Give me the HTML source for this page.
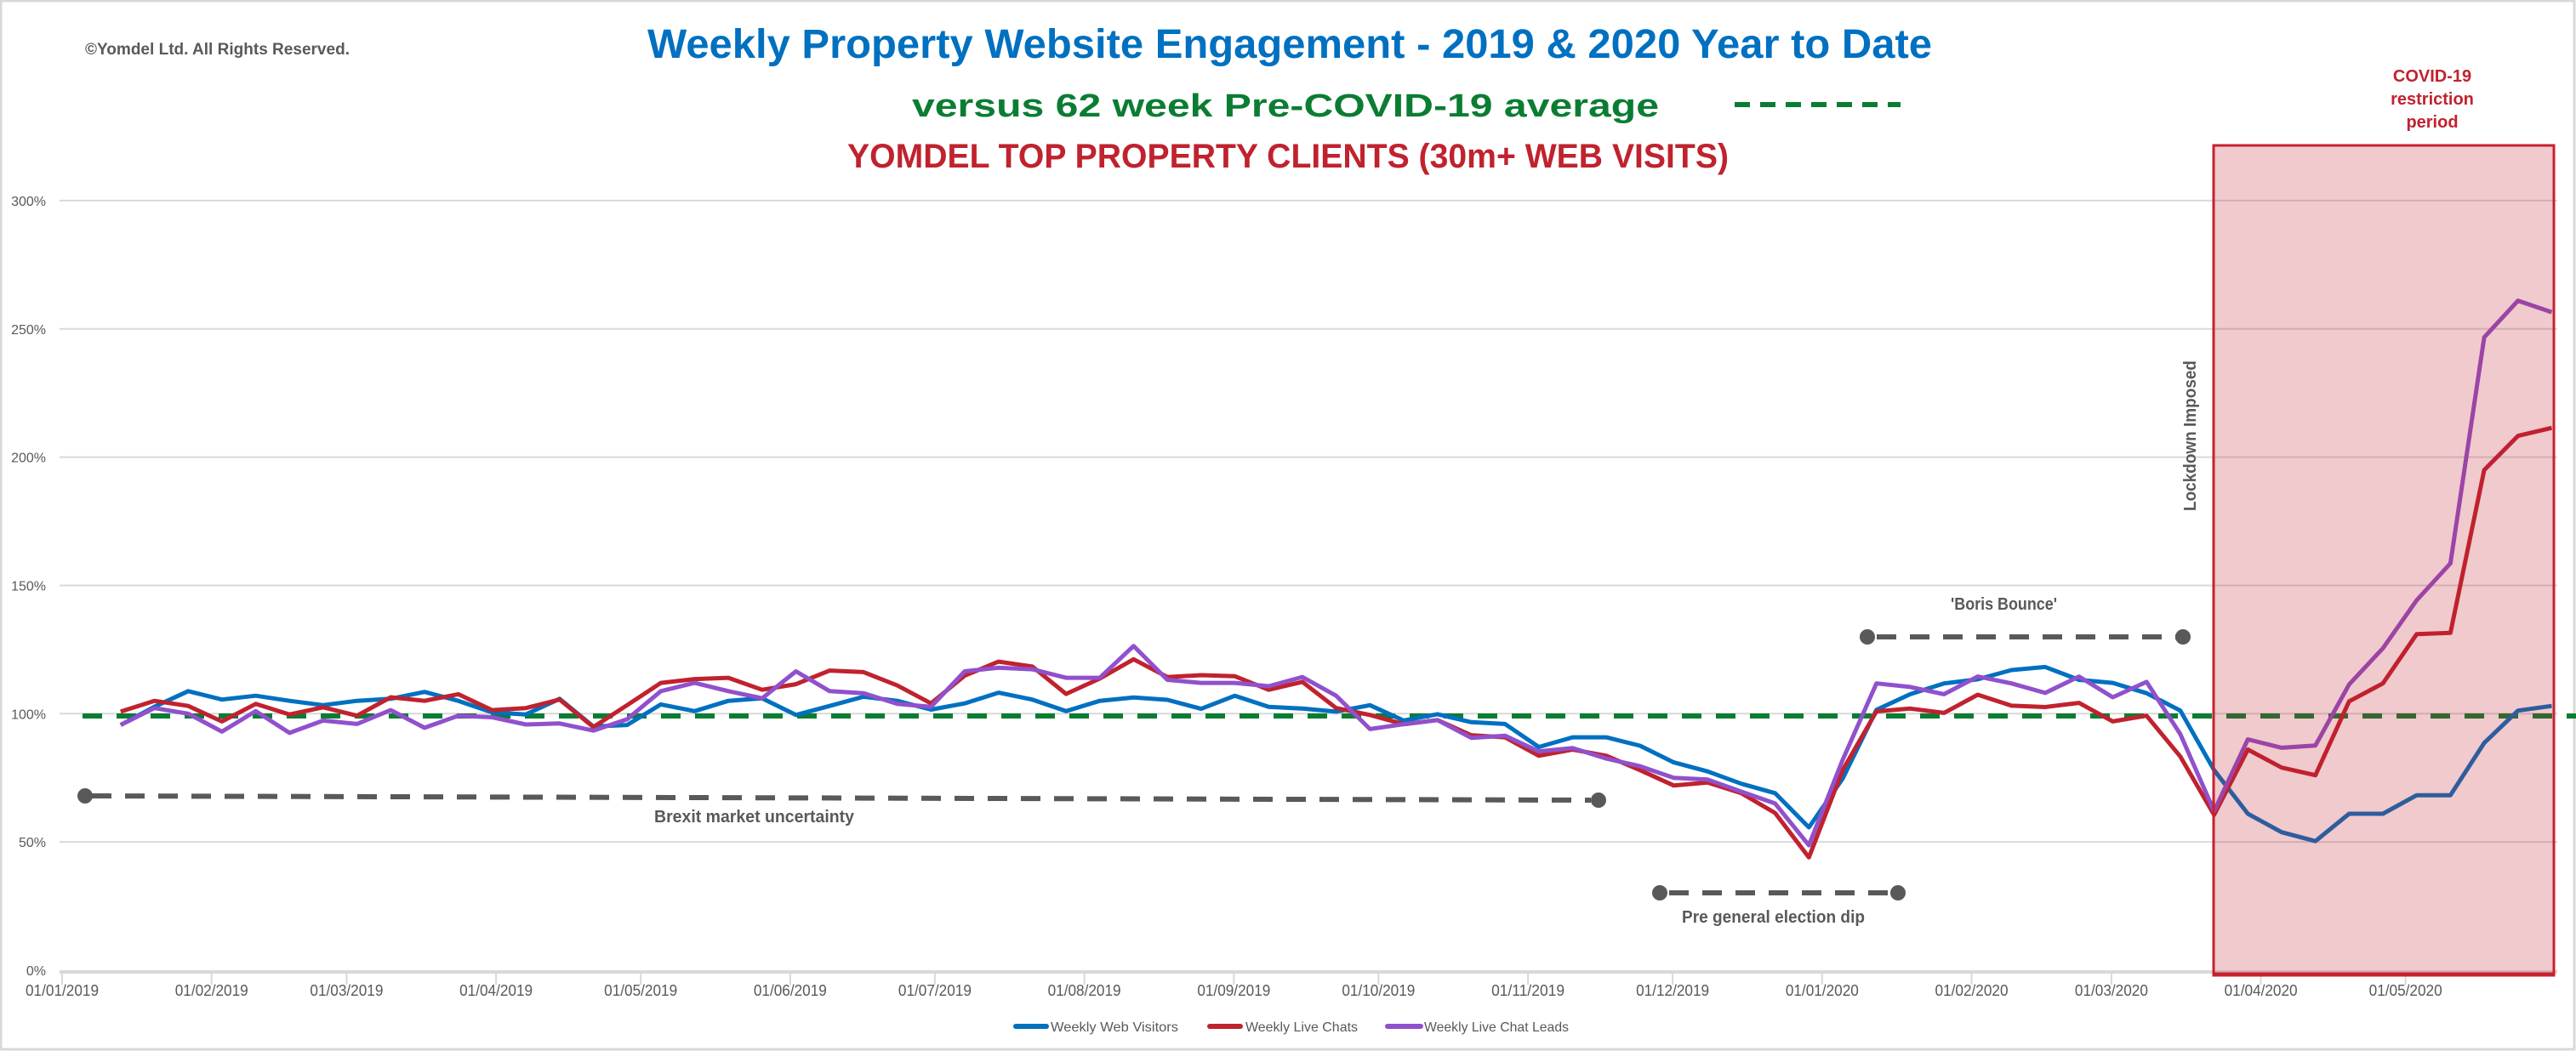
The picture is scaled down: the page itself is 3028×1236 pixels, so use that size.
<!DOCTYPE html>
<html><head><meta charset="utf-8"><style>
html,body{margin:0;padding:0;background:#fff;}
svg{display:block;font-family:"Liberation Sans",sans-serif;}
</style></head><body>
<svg id="s" width="3028" height="1236" viewBox="0 0 3028 1236" xmlns="http://www.w3.org/2000/svg">
<rect x="1" y="1" width="3025" height="1233" fill="#fff" stroke="#D9D9D9" stroke-width="3"/>
<g id="grid" stroke="#D9D9D9" stroke-width="2"></g>
<g id="ylab" font-size="16" fill="#595959" text-anchor="end"></g>
<g id="xlab" font-size="18" fill="#595959" text-anchor="middle"></g>
<line x1="70" y1="1143" x2="3006" y2="1143" stroke="#D9D9D9" stroke-width="4"/>
<g id="ticks" stroke="#D9D9D9" stroke-width="2"></g>

<text x="100" y="64" font-size="19" font-weight="bold" fill="#595959" textLength="311" lengthAdjust="spacingAndGlyphs">©Yomdel Ltd. All Rights Reserved.</text>
<text x="761" y="68" font-size="48" font-weight="bold" fill="#0070C0" textLength="1510" lengthAdjust="spacingAndGlyphs">Weekly Property Website Engagement - 2019 &amp; 2020 Year to Date</text>
<text x="1072" y="137" font-size="38" font-weight="bold" fill="#0A7D32" textLength="878" lengthAdjust="spacingAndGlyphs">versus 62 week Pre-COVID-19 average</text>
<line x1="2039" y1="123" x2="2234" y2="123" stroke="#0A7D32" stroke-width="6" stroke-dasharray="18,12"/>
<text x="996" y="197" font-size="40" font-weight="bold" fill="#C0222E" textLength="1036" lengthAdjust="spacingAndGlyphs">YOMDEL TOP PROPERTY CLIENTS (30m+ WEB VISITS)</text>

<g font-size="20" font-weight="bold" fill="#C0222E" text-anchor="middle">
<text x="2859" y="96">COVID-19</text>
<text x="2859" y="123">restriction</text>
<text x="2859" y="150">period</text>
</g>

<!-- annotations -->
<g stroke="#595959" stroke-width="6" stroke-dasharray="23,16" fill="none">
<line x1="108" y1="936" x2="1870" y2="941"/>
<line x1="1962" y1="1050" x2="2222" y2="1050"/>
<line x1="2206" y1="749" x2="2560" y2="749"/>
</g>
<g fill="#595959">
<circle cx="100" cy="936" r="9"/><circle cx="1879" cy="941" r="9"/>
<circle cx="1951" cy="1050" r="9"/><circle cx="2231" cy="1050" r="9"/>
<circle cx="2195" cy="749" r="9"/><circle cx="2566" cy="749" r="9"/>
</g>
<g font-size="20" font-weight="bold" fill="#595959">
<text x="769" y="967" textLength="235" lengthAdjust="spacingAndGlyphs">Brexit market uncertainty</text>
<text x="1977" y="1085" textLength="215" lengthAdjust="spacingAndGlyphs">Pre general election dip</text>
<text x="2293" y="717" textLength="125" lengthAdjust="spacingAndGlyphs">'Boris Bounce'</text>
<text transform="translate(2581,601) rotate(-90)" textLength="177" lengthAdjust="spacingAndGlyphs">Lockdown Imposed</text>
</g>

<line x1="97" y1="842" x2="3028" y2="842" stroke="#0A7D32" stroke-width="6" stroke-dasharray="23,17"/>
<g id="series" fill="none" stroke-width="5" stroke-linejoin="round"></g>

<rect x="2602" y="171" width="400" height="976" fill="rgba(192,32,46,0.24)" stroke="#C8202F" stroke-width="3"/>
<line x1="2602" y1="1146" x2="3002" y2="1146" stroke="#C8202F" stroke-width="5"/>

<!-- legend -->
<g font-size="16" fill="#595959">
<line x1="1194" y1="1207" x2="1230" y2="1207" stroke="#0070C0" stroke-width="6" stroke-linecap="round"/>
<text x="1235" y="1213" textLength="150" lengthAdjust="spacingAndGlyphs">Weekly Web Visitors</text>
<line x1="1422" y1="1207" x2="1458" y2="1207" stroke="#C0222E" stroke-width="6" stroke-linecap="round"/>
<text x="1464" y="1213" textLength="132" lengthAdjust="spacingAndGlyphs">Weekly Live Chats</text>
<line x1="1631" y1="1207" x2="1670" y2="1207" stroke="#9150CC" stroke-width="6" stroke-linecap="round"/>
<text x="1674" y="1213" textLength="170" lengthAdjust="spacingAndGlyphs">Weekly Live Chat Leads</text>
</g>
</svg>
<script>
var NS="http://www.w3.org/2000/svg";
function el(p,t,a,txt){var e=document.createElementNS(NS,t);for(var k in a)e.setAttribute(k,a[k]);if(txt)e.textContent=txt;document.getElementById(p).appendChild(e);return e;}
function Y(p){return 1141-p*3.017;}
for(var v=50;v<=300;v+=50){el("grid","line",{x1:70,y1:Y(v),x2:3006,y2:Y(v)});}
for(var v=0;v<=300;v+=50){el("ylab","text",{x:54,y:Y(v)+6},v+"%");}
var d=[[0,"01/01/2019"],[31,"01/02/2019"],[59,"01/03/2019"],[90,"01/04/2019"],[120,"01/05/2019"],[151,"01/06/2019"],[181,"01/07/2019"],[212,"01/08/2019"],[243,"01/09/2019"],[273,"01/10/2019"],[304,"01/11/2019"],[334,"01/12/2019"],[365,"01/01/2020"],[396,"01/02/2020"],[425,"01/03/2020"],[456,"01/04/2020"],[486,"01/05/2020"]];
d.forEach(function(q){var x=73+5.668*q[0];el("ticks","line",{x1:x,y1:1143,x2:x,y2:1158});el("xlab","text",{x:x,y:1171,textLength:86,lengthAdjust:"spacingAndGlyphs"},q[1]);});
var B=[95.6,102.7,108.8,105.5,107,105,103.3,105,105.8,108.5,105,100.5,99.7,105.8,95,95.6,103.6,101,105,106,
99.5,103,106.6,105,101.6,104,108.2,105.5,101,105,106.3,105.4,101.9,107,102.7,102,100.8,103.3,97.3,
99.8,96.7,96,87,90.8,90.8,87.5,81,77.5,72.7,69,55.7,74.7,101.5,107.6,111.8,113.4,117,118.2,113.2,
112,108,101.2,78,61,53.8,50.3,61,61,68.2,68.2,88.6,101.2,103];
var R=[100.8,105,103,97,103.8,99.7,102.5,99.2,106.4,105,107.6,101.4,102.2,105.5,94.8,103.3,112,113.5,114,109.3,
111.5,116.8,116.2,111,104,114.8,120.3,118.4,107.7,113.7,121.2,114.3,115,114.6,109.3,112.4,102.2,99.5,95.9,
97.5,91.6,90.8,83.6,86,83.6,78,72,73.2,69,61.3,44,78,100.9,102,100.3,107.4,103.1,102.6,104.2,
97,99.2,83.3,60.6,86,79,76,104.8,111.8,131,131.5,195,208.3,211.4];
var P=[95.6,102.2,100,93,101,92.5,97.3,96,101.4,94.5,99.2,98.6,95.8,96.2,93.4,97.8,108.8,112,108.8,106,
116.5,108.8,108,103.8,102.7,116.5,117.9,117.3,114,114,126.4,113.2,112,112,110.7,114.3,107,94,95.9,
97.5,90.6,91.4,85.3,86.6,82.5,79.5,75,74.3,69.6,65,48.7,82,111.8,110.4,107.6,114.5,111.8,108.1,114.5,
106.4,112.4,92,62,90,86.7,87.6,111.4,125.5,144.2,158.6,246.7,261,256.5];
function pts(a){return a.map(function(v,i){return (141.8+39.69*i).toFixed(1)+","+Y(v).toFixed(1);}).join(" ");}
el("series","polyline",{points:pts(B),stroke:"#0070C0"});
el("series","polyline",{points:pts(R),stroke:"#C0222E"});
el("series","polyline",{points:pts(P),stroke:"#9150CC"});
</script>
</body></html>
